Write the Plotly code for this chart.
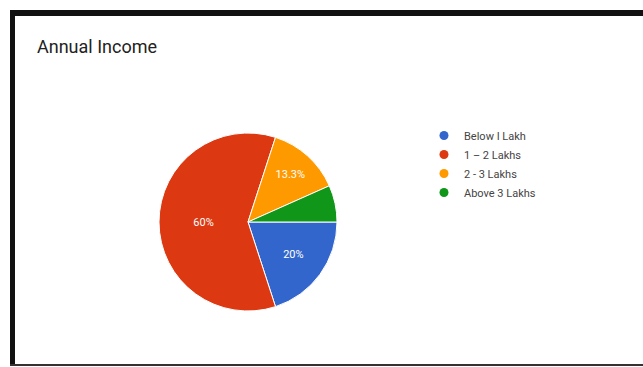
import plotly.graph_objects as go

# Survey responses by annual income band
categories = ["Below I Lakh", "1 – 2 Lakhs", "2 - 3 Lakhs", "Above 3 Lakhs"]
responses = [3, 9, 2, 1]
colors = ["#3366CC", "#DC3912", "#FF9900", "#109618"]

W, H = 643, 367
total = sum(responses)


def pct_label(v):
    p = round(100 * v / total, 1)
    s = f"{p:.1f}".rstrip("0").rstrip(".")
    # very small slices are left unlabelled
    return f"{s}%" if p >= 10 else ""


labels = [pct_label(v) for v in responses]

fig = go.Figure()

# pie centred at (248, 222) px, radius ~88 px
cx, cy, r = 248, 222, 89
fig.add_trace(go.Pie(
    labels=categories,
    values=responses,
    text=labels,
    textinfo="text",
    textposition="inside",
    insidetextorientation="horizontal",
    textfont=dict(family="Roboto, Arial, sans-serif", size=11, color="white"),
    marker=dict(colors=colors, line=dict(color="white", width=1)),
    sort=False,
    direction="clockwise",
    rotation=90,
    showlegend=False,
    hoverinfo="label+percent",
    domain=dict(x=[(cx - r) / W, (cx + r) / W], y=[1 - (cy + r) / H, 1 - (cy - r) / H]),
))

# circular legend keys
for name, col in zip(categories, colors):
    fig.add_trace(go.Scatter(
        x=[None], y=[None], mode="markers", name=name,
        marker=dict(symbol="circle", size=9, color=col),
        hoverinfo="skip",
    ))

# frame around the chart card
black = "#111111"
shapes = [
    dict(type="rect", xref="paper", yref="paper", x0=10 / W, x1=1, y0=1 - 16 / H, y1=1 - 10 / H,
         fillcolor=black, line=dict(width=0), layer="above"),
    dict(type="rect", xref="paper", yref="paper", x0=10 / W, x1=15 / W, y0=1 - 366 / H, y1=1 - 10 / H,
         fillcolor=black, line=dict(width=0), layer="above"),
    dict(type="rect", xref="paper", yref="paper", x0=10 / W, x1=1, y0=1 - 366 / H, y1=1 - 364 / H,
         fillcolor="#333333", line=dict(width=0), layer="above"),
]

fig.update_layout(
    width=W, height=H,
    margin=dict(l=0, r=0, t=0, b=0),
    paper_bgcolor="white",
    plot_bgcolor="white",
    title=dict(
        text="Annual Income",
        x=37 / W, xanchor="left",
        y=1 - 47 / H, yanchor="middle",
        font=dict(family="Roboto, Arial, sans-serif", size=18, color="#222222"),
    ),
    xaxis=dict(visible=False),
    yaxis=dict(visible=False),
    legend=dict(
        x=424 / W, xanchor="left",
        y=1 - 121 / H, yanchor="top",
        font=dict(family="Roboto, Arial, sans-serif", size=11, color="#444444"),
        itemwidth=30,
        tracegroupgap=0,
        bgcolor="rgba(0,0,0,0)",
    ),
    shapes=shapes,
)

fig.write_html("out.html")
